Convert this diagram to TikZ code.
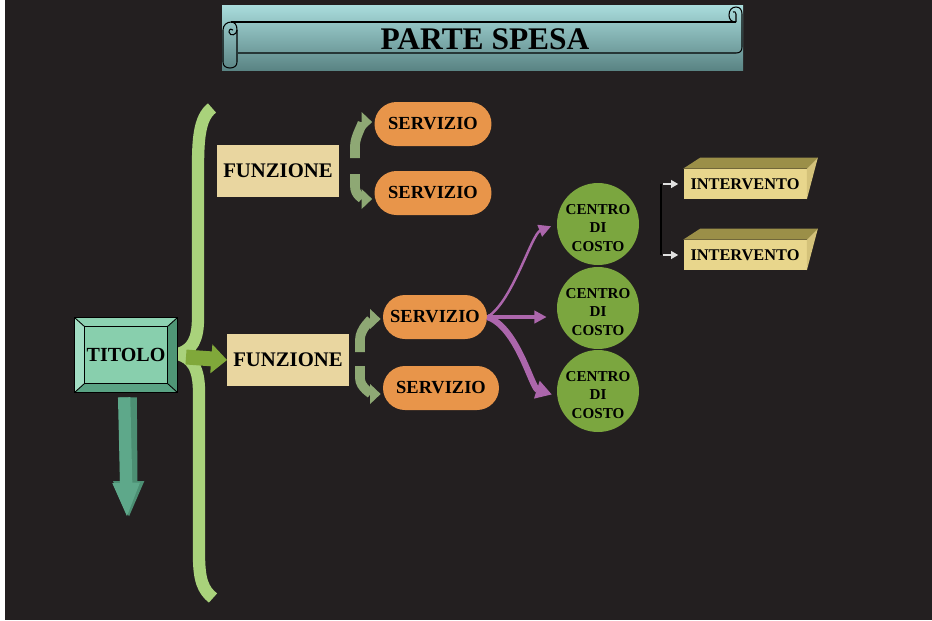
\documentclass[tikz,border=0pt]{standalone}
\usepackage{fontspec}
\setmainfont{Liberation Serif}
\usepackage{tikz}
\usetikzlibrary{arrows.meta,calc,positioning}

\definecolor{bgdark}{HTML}{231F20}
\definecolor{bracegreen}{HTML}{A9D27B}
\definecolor{mint}{HTML}{88CFAD}
\definecolor{mintlight}{HTML}{A1DDC3}
\definecolor{minttop}{HTML}{8DD2B2}
\definecolor{mintdark}{HTML}{4F9676}
\definecolor{mintbot}{HTML}{5AA384}
\definecolor{downgreen}{HTML}{5EA88A}
\definecolor{downdark}{HTML}{4C8F73}
\definecolor{olivearrow}{HTML}{80A83A}
\definecolor{wheat}{HTML}{E9D6A0}
\definecolor{orangebox}{HTML}{E8954A}
\definecolor{sagearrow}{HTML}{8EA874}
\definecolor{costgreen}{HTML}{7BA63F}
\definecolor{purplearrow}{HTML}{AC66AC}
\definecolor{intfront}{HTML}{E8D68C}
\definecolor{inttop}{HTML}{9B8F48}
\definecolor{intside}{HTML}{D4C27A}
\definecolor{scrolltop}{HTML}{A9DCDC}
\definecolor{scrollmid}{HTML}{96CECE}
\definecolor{scrollbot}{HTML}{5A8484}

\begin{document}
\begin{tikzpicture}[
        x=0.02cm,
        y=-0.02cm,
        titbox/.style={fill=mint, minimum width=2.04cm, minimum height=1.48cm, font=\bfseries\fontsize{11.4}{12}\selectfont},
        funbox/.style={fill=wheat, minimum width=2.36cm, minimum height=1.05cm, font=\bfseries\fontsize{11.8}{13}\selectfont},
        servbox/.style={fill=orangebox, rounded corners=0.44cm, minimum height=0.88cm, font=\bfseries\fontsize{10.5}{12}\selectfont},
        costcircle/.style={circle, fill=costgreen, minimum size=1.64cm, inner sep=0pt, align=center, font=\bfseries\fontsize{8.6}{10.6}\selectfont},
        intbox/.style={fill=intfront, minimum width=2.46cm, minimum height=0.6cm, font=\bfseries\fontsize{9.3}{11}\selectfont},
        bendarrow/.style={draw=sagearrow, line width=5.5pt, -{Triangle[length=6pt, width=11pt]}, shorten >=0.04cm},
        purple/.style={draw=purplearrow, -{Triangle[length=7pt, width=7pt]}},
        whitearrow/.style={draw=white!88!black, line width=0.6pt, -{Triangle[length=4pt, width=4.5pt]}},
        scroll/.style={line width=0.6pt},
        >=Latex
    ]
        % background
        \fill[white] (0,0) rectangle (932,620);
        \fill[bgdark] (5,0) rectangle (932,620);

        % banner
        \shade[top color=scrolltop, middle color=scrollmid, bottom color=scrollbot] (222,5) rectangle (743,70);
        \draw[scroll] (231,22) -- (736,22);
        \draw[scroll] (736,7) .. controls (740,7) and (742,10) .. (742,14) -- (742,47)
            .. controls (742,51) and (740,53) .. (736,53) -- (238,53);
        \draw[scroll] (736,22) .. controls (731,22) and (729,19) .. (729,15)
            .. controls (729,10) and (732,7) .. (736,7);
        \draw[scroll] (736,22) -- (736,14) .. controls (736,12) and (734,11) .. (733,12);
        \draw[scroll] (231,22) .. controls (227,22) and (223,25) .. (223,30) -- (223,62)
            .. controls (223,66) and (226,68) .. (230,68) .. controls (234,68) and (237,66) .. (237,62) -- (237,30)
            .. controls (237,25) and (235,22) .. (231,22);
        \draw[scroll] (237,30) .. controls (237,35) and (230,37) .. (229,32) .. controls (229,29) and (232,28) .. (233,30);
        \node[font=\bfseries\fontsize{17.9}{20}\selectfont] (title) at (485,39) {PARTE SPESA};

        % brace
        \draw[bracegreen, line width=7pt] (212,108) .. controls (199,118) and (198,140) .. (198,170)
            -- (198,318) .. controls (198,340) and (192,350) .. (178,354);
        \draw[bracegreen, line width=7pt] (178,354) .. controls (192,358) and (199,368) .. (199,392)
            -- (199,555) .. controls (199,580) and (203,590) .. (213,598);
        \coordinate (cusp) at (186,357);

        % titolo
        \node[titbox] (tit) at (126,355) {};
        \fill[minttop] (tit.north west) -- (tit.north east) -- ++(-10,9) -- ($(tit.north west)+(10,9)$) -- cycle;
        \fill[mintlight] (tit.north west) -- ++(10,9) -- ($(tit.south west)+(10,-9)$) -- (tit.south west) -- cycle;
        \fill[mintdark] (tit.north east) -- ++(-10,9) -- ($(tit.south east)+(-10,-9)$) -- (tit.south east) -- cycle;
        \fill[mintbot] (tit.south west) -- (tit.south east) -- ++(-10,-9) -- ($(tit.south west)+(10,-9)$) -- cycle;
        \draw[line width=0.5pt] (tit.north west) rectangle (tit.south east);
        \draw[line width=0.5pt] ($(tit.north west)+(10,9)$) rectangle ($(tit.south east)+(-10,-9)$);
        \draw[line width=0.5pt] (tit.north west) -- ++(10,9) (tit.north east) -- ++(-10,9)
            (tit.south west) -- ++(10,-9) (tit.south east) -- ++(-10,-9);
        \node[font=\bfseries\fontsize{11.4}{12}\selectfont] at (tit) {TITOLO};

        % arrows out of titolo
        \coordinate (downend) at (127,518);
        \draw[downdark, line width=10pt, -{Triangle[length=21pt, width=16pt]}, shorten <=0.1cm] ([xshift=0.04cm]tit.south) -- ([xshift=0.04cm]downend);
        \draw[downgreen, line width=7pt, -{Triangle[length=20pt, width=14pt]}, shorten <=0.1cm] ([xshift=-0.04cm]tit.south) -- (downend);

        % funzione
        \node[funbox] (fun1) at (278,171) {FUNZIONE};
        \node[funbox] (fun2) at (288,360) {FUNZIONE};
        \draw[olivearrow, line width=8.5pt, -{Triangle[length=9pt, width=16pt]}] (cusp) -- (fun2.west);

        % servizio
        \node[servbox, minimum width=2.34cm] (serv1) at (433,124) {SERVIZIO};
        \node[servbox, minimum width=2.34cm] (serv2) at (433,193) {SERVIZIO};
        \node[servbox, minimum width=2.08cm] (serv3) at (435,317) {SERVIZIO};
        \node[servbox, minimum width=2.32cm] (serv4) at (441,388) {SERVIZIO};

        \draw[bendarrow] ($(fun1.east)+(16,-13)$) -- ++(0,-12) .. controls +(0,-10) and +(-10,0) .. ([yshift=0.04cm]serv1.west);
        \draw[bendarrow] ($(fun1.east)+(16,3)$) -- ++(0,12) .. controls +(0,10) and +(-10,0) .. ([yshift=-0.12cm]serv2.west);
        \draw[bendarrow] ($(fun2.east)+(11,-8)$) -- ++(0,-12) .. controls +(0,-12) and +(-10,0) .. ([yshift=-0.04cm]serv3.west);
        \draw[bendarrow] ($(fun2.east)+(11,6)$) -- ++(0,12) .. controls +(0,10) and +(-10,0) .. ([yshift=-0.12cm]serv4.west);

        % centri di costo
        \node[costcircle] (cdc1) at (598,224) {};
        \node[costcircle] (cdc2) at (598,308) {};
        \node[costcircle] (cdc3) at (598,391) {};
        \foreach \c in {cdc1,cdc2,cdc3}
            \node[align=center, font=\bfseries\fontsize{8.6}{10.6}\selectfont] at ([yshift=-0.08cm]\c) {CENTRO\\DI\\COSTO};

        \draw[purple, line width=1.4pt, shorten >=0.12cm] (serv3.east) .. controls +(25,-15) and +(-25,10) .. (cdc1.west);
        \draw[purple, line width=2.2pt, shorten >=0.2cm] (serv3.east) -- (serv3.east -| cdc2.west);
        \draw[purple, line width=3.5pt, shorten >=0.1cm, -{Triangle[length=9pt, width=10pt]}] (serv3.east) .. controls +(30,10) and +(-25,-8) .. ($(cdc3.west)+(0,5)$);

        % interventi
        \node[intbox] (int1) at (745,184) {INTERVENTO};
        \node[intbox] (int2) at (745,255) {INTERVENTO};
        \foreach \n in {int1,int2} {
            \fill[inttop] (\n.north west) -- ++(17,-11) -- ($(\n.north east)+(11,-11)$) -- (\n.north east) -- cycle;
            \fill[intside] (\n.north east) -- ++(11,-11) -- (\n.south east) -- cycle;
        }
        \coordinate (split) at (661,184);
        \draw[black, line width=0.8pt] (split) -- (split |- int2.west);
        \draw[whitearrow, shorten <=0.04cm, shorten >=0.1cm] (split) -- (int1.west);
        \draw[whitearrow, shorten <=0.04cm, shorten >=0.1cm] (split |- int2.west) -- (int2.west);

        \useasboundingbox (0,0) rectangle (932,620);
    \end{tikzpicture}
\end{document}
